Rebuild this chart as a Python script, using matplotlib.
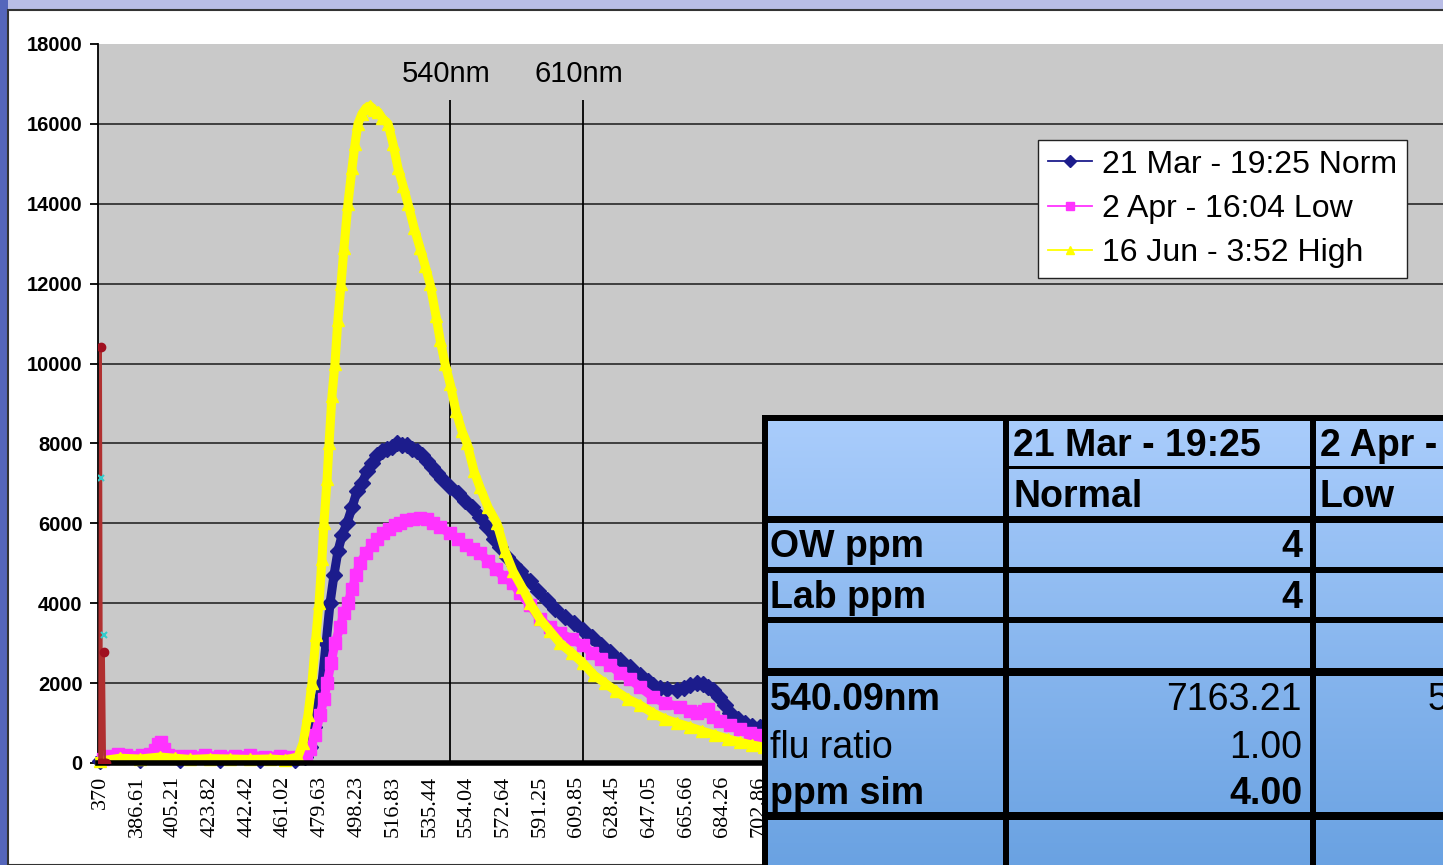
import numpy as np
import matplotlib.pyplot as plt
from matplotlib.lines import Line2D
from matplotlib.patches import Rectangle
from matplotlib.colors import LinearSegmentedColormap

W, H = 1443, 865

# category axis labels (wavelength, nm)
tick_labels = ['370', '386.61', '405.21', '423.82', '442.42', '461.02', '479.63',
               '498.23', '516.83', '535.44', '554.04', '572.64', '591.25', '609.85',
               '628.45', '647.05', '665.66', '684.26', '702.86']
y_ticks = [0, 2000, 4000, 6000, 8000, 10000, 12000, 14000, 16000, 18000]

# 21 Mar - 19:25 Norm
norm_x = [367.8, 388.1, 408.5, 428.8, 449.1, 466.9, 472.0, 474.5, 476.6, 478.6, 480.6,
          482.7, 484.7, 486.7, 488.7, 490.8, 493.3, 495.9, 498.4, 500.9, 503.5, 506.0,
          508.6, 511.1, 513.6, 516.2, 518.7, 521.3, 523.8, 526.4, 528.9, 531.4, 534.0,
          536.5, 539.1, 541.6, 545.7, 549.7, 553.3, 556.8, 560.9, 564.5, 568.0, 571.1,
          574.6, 578.2, 581.2, 586.3, 590.4, 594.9, 599.0, 604.1, 608.7, 613.2, 617.8,
          622.4, 627.0, 632.0, 637.1, 642.2, 646.3, 648.8, 652.4, 655.9, 661.0, 664.6,
          667.6, 671.2, 674.2, 676.8, 679.3, 682.3, 685.4, 687.9, 692.0, 695.6, 699.1,
          703.2, 709.3]
norm_y = [60, 80, 70, 80, 70, 80, 150, 400, 900, 1500, 2000,
          3000, 4000, 4700, 5300, 5700, 6000, 6400, 6800, 7000, 7300, 7500,
          7700, 7800, 7850, 7900, 8000, 7950, 7950, 7850, 7800, 7700, 7550,
          7400, 7250, 7100, 6900, 6750, 6550, 6400, 6150, 5900, 5600, 5400,
          5150, 4950, 4800, 4550, 4300, 4080, 3850, 3650, 3500, 3330, 3150,
          2950, 2780, 2580, 2400, 2200, 2050, 1950, 1880, 1850, 1830, 1880,
          1950, 2000, 1980, 1900, 1830, 1650, 1450, 1250, 1100, 1000, 930,
          900, 850]

# 2 Apr - 16:04 Low
low_x = [369.3, 372.9, 377.0, 381.0, 385.1, 389.2, 393.2, 395.8, 397.3, 398.8, 400.3,
         402.4, 407.4, 413.5, 421.2, 428.8, 436.4, 444.0, 451.7, 459.3, 465.4, 469.4,
         472.5, 474.5, 477.1, 479.6, 481.6, 483.2, 485.2, 487.2, 489.8, 491.8, 493.8,
         495.9, 497.9, 499.9, 503.0, 506.0, 508.6, 511.6, 514.7, 517.7, 520.3, 523.3,
         526.9, 530.4, 534.0, 537.0, 540.6, 545.7, 549.7, 553.8, 557.3, 560.9, 565.0,
         569.0, 573.1, 577.7, 581.2, 586.3, 591.4, 596.5, 601.6, 607.7, 613.2, 617.8,
         622.4, 627.0, 632.0, 637.1, 642.2, 648.8, 654.9, 662.5, 667.6, 671.2, 674.7,
         676.8, 679.3, 682.9, 687.9, 693.0, 698.1, 703.2, 709.3]
low_y = [100, 180, 220, 200, 160, 200, 220, 320, 480, 520, 350,
         200, 180, 170, 190, 170, 180, 190, 160, 180, 160, 150,
         200, 350, 700, 1200, 1600, 2000, 2500, 3000, 3400, 3750, 4000,
         4350, 4700, 5000, 5250, 5450, 5600, 5750, 5850, 5950, 6000, 6080,
         6120, 6130, 6100, 6000, 5900, 5750, 5600, 5450, 5350, 5250, 5050,
         4850, 4650, 4500, 4250, 3950, 3600, 3400, 3250, 3100, 2950, 2750,
         2600, 2450, 2250, 2100, 1900, 1650, 1500, 1400, 1300, 1250, 1300,
         1350, 1150, 1050, 950, 850, 750, 700, 650]

# 16 Jun - 3:52 High
high_x = [367.8, 378.0, 388.1, 398.3, 405.9, 413.5, 423.7, 433.9, 444.0, 454.2, 461.8,
          468.4, 471.0, 473.5, 475.5, 477.6, 479.1, 480.6, 481.6, 483.2, 484.2, 485.7,
          487.2, 488.7, 490.3, 491.8, 493.8, 495.9, 497.4, 498.9, 500.9, 503.0, 505.0,
          507.0, 509.1, 511.1, 514.2, 516.7, 519.2, 521.8, 524.3, 527.4, 530.4, 533.0,
          535.5, 538.5, 540.6, 543.1, 545.7, 548.7, 551.8, 554.3, 557.9, 560.9, 565.0,
          569.5, 573.6, 577.7, 582.2, 586.3, 591.4, 596.5, 601.6, 607.7, 613.2, 618.8,
          624.4, 630.0, 636.1, 642.2, 648.8, 654.9, 661.0, 667.6, 673.7, 680.3, 686.9,
          693.0, 699.1, 705.2, 713.3]
high_y = [50, 120, 100, 150, 120, 90, 110, 100, 90, 100, 80,
          150, 500, 1200, 2000, 3200, 4000, 5100, 6000, 7100, 8000, 9200,
          10000, 11100, 12000, 12900, 14000, 14900, 15500, 16000, 16250, 16400, 16450,
          16350, 16300, 16150, 16000, 15500, 14900, 14450, 14000, 13400, 12900, 12450,
          12000, 11200, 10600, 10000, 9500, 8800, 8300, 8000, 7300, 6900, 6400,
          6000, 5300, 4800, 4400, 4000, 3600, 3300, 3000, 2750, 2500, 2200,
          2000, 1800, 1600, 1450, 1250, 1100, 1000, 900, 800, 700, 600,
          520, 450, 400, 350]

# two extra series at the start of the axis
red_x = [367.6, 368.1, 368.6, 369.6, 370.2, 370.8]
red_y = [0, 10420, 0, 2780, 0, 0]
cyan_x = [368.1, 369.6]
cyan_y = [7130, 3200]

series_names = ['21 Mar - 19:25 Norm', '2 Apr - 16:04 Low', '16 Jun - 3:52 High']
series_colors = ['#1c1c8c', '#ff33ff', '#ffff00']
series_markers = ['D', 's', '^']

marker_lines_x = [545.7, 613.2]
marker_lines_text = ['540nm', '610nm']

# table beside the chart
table_heads = [('21 Mar - 19:25', 'Normal'), ('2 Apr - 16:04', 'Low')]
table_rows = ['OW ppm', 'Lab ppm', '540.09nm', 'flu ratio', 'ppm sim']
table_col1 = ['4', '4', '7163.21', '1.00', '4.00']

fig = plt.figure(figsize=(W / 100, H / 100), dpi=100)
fig.patch.set_facecolor('#b9bde6')
fig.patches.append(Rectangle((0, 0), 8 / W, 1, transform=fig.transFigure,
                             facecolor='#5566bb', edgecolor='none', zorder=-5))
fig.patches.append(Rectangle((8 / W, 0), 1, 1 - 10 / H, transform=fig.transFigure,
                             facecolor='white', edgecolor='#333333', lw=1.5, zorder=-5))

ax = fig.add_axes([98 / W, (H - 763) / H, 1 - 98 / W, (763 - 44) / H])
ax.set_facecolor('#c9c9c9')

tick_pos = [float(t) for t in tick_labels]
tick_pos[0] = 2 * tick_pos[1] - tick_pos[2]
ax.set_xlim(366.8, 1050.2)
ax.set_ylim(0, 18000)

data = [(norm_x, norm_y), (low_x, low_y), (high_x, high_y)]
for (xs, ys), c, m in zip(data, series_colors, series_markers):
    ax.plot(xs, ys, color=c, lw=6.5, marker=m, ms=8, mec=c, zorder=3, clip_on=False)

ax.plot(red_x, red_y, color='#b03030', lw=2, marker='o', ms=6, mfc='#a01020',
        mec='#a01020', zorder=5)
ax.plot(cyan_x, cyan_y, color='#33cccc', lw=0, marker='x', ms=4, mew=1.5, zorder=5)

ax.vlines(marker_lines_x, 0, 16600, color='black', lw=1.3, zorder=2)
for xv, t in zip(marker_lines_x, marker_lines_text):
    ax.text(xv - 2, 17250, t, ha='center', va='center', fontsize=21,
            family='Liberation Sans', color='black')

ax.set_yticks(y_ticks)
ax.set_yticklabels([str(v) for v in y_ticks], fontsize=14.5, fontweight='bold',
                   family='Liberation Sans')
ax.set_xticks(tick_pos)
ax.set_xticklabels(tick_labels, rotation=90, fontsize=16, family='Liberation Serif')
ax.tick_params(axis='y', length=6, width=1.3, pad=5, colors='black')
ax.tick_params(axis='x', length=0, pad=9)
ax.grid(axis='y', color='#1a1a1a', lw=1.1)
ax.yaxis.get_gridlines()[-1].set_visible(False)
ax.set_axisbelow(True)
for s in ['top', 'right']:
    ax.spines[s].set_visible(False)
ax.spines['left'].set_linewidth(1.3)
ax.spines['bottom'].set_linewidth(4)
ax.spines['bottom'].set_zorder(4)

handles = [Line2D([], [], color=c, lw=1.3, marker=m, ms=6, mec=c)
           for c, m in zip(series_colors, series_markers)]
fig.legend(handles, series_names, loc='upper left', bbox_to_anchor=(1038 / W, 1 - 140 / H),
           prop={'family': 'Liberation Sans', 'size': 23}, frameon=True, fancybox=False,
           edgecolor='#222222', framealpha=1, borderaxespad=0, borderpad=0.3,
           handlelength=1.4, handletextpad=0.3, labelspacing=0.45)

# table overlay, drawn in pixel units
tax = fig.add_axes([762 / W, 0, 1 - 762 / W, (H - 415) / H])
tax.set_xlim(762, W)
tax.set_ylim(H, 415)
tax.axis('off')
grad = np.linspace(0, 1, 256).reshape(-1, 1)
cmap = LinearSegmentedColormap.from_list('tb', ['#aacdfc', '#6aa2e2'])
tax.imshow(grad, cmap=cmap, aspect='auto', extent=[762, W, H, 415], zorder=0)
for (x0, y0, w, h) in [(762, 415, 681, 6), (762, 415, 6, 450), (1003, 415, 6, 450),
                       (1310, 415, 6, 450), (1006, 466, 437, 3), (762, 516, 681, 7),
                       (762, 567, 681, 6), (762, 617, 681, 6), (762, 668, 681, 8),
                       (762, 812, 681, 8)]:
    tax.add_patch(Rectangle((x0, y0), w, h, facecolor='black', edgecolor='none', zorder=2))

tf = dict(family='Liberation Sans', fontsize=27, color='black', va='baseline', zorder=3)
for (top, bot), xl in zip(table_heads, [1013, 1320]):
    tax.text(xl, 456, top, ha='left', fontweight='bold', **tf)
    tax.text(xl, 507, bot, ha='left', fontweight='bold', **tf)
row_base = [557, 608, 710, 758, 804]
row_bold = [True, True, True, False, True]
val_bold = [True, True, False, False, True]
for lab, val, yb, rb, vb in zip(table_rows, table_col1, row_base, row_bold, val_bold):
    tax.text(770, yb, lab, ha='left', fontweight='bold' if rb else 'normal', **tf)
    tax.text(1302, yb, val, ha='right', fontweight='bold' if vb else 'normal', **tf)
tax.text(1428, 710, '5', ha='left', **tf)

fig.savefig('out.png', dpi=100, facecolor=fig.get_facecolor())
